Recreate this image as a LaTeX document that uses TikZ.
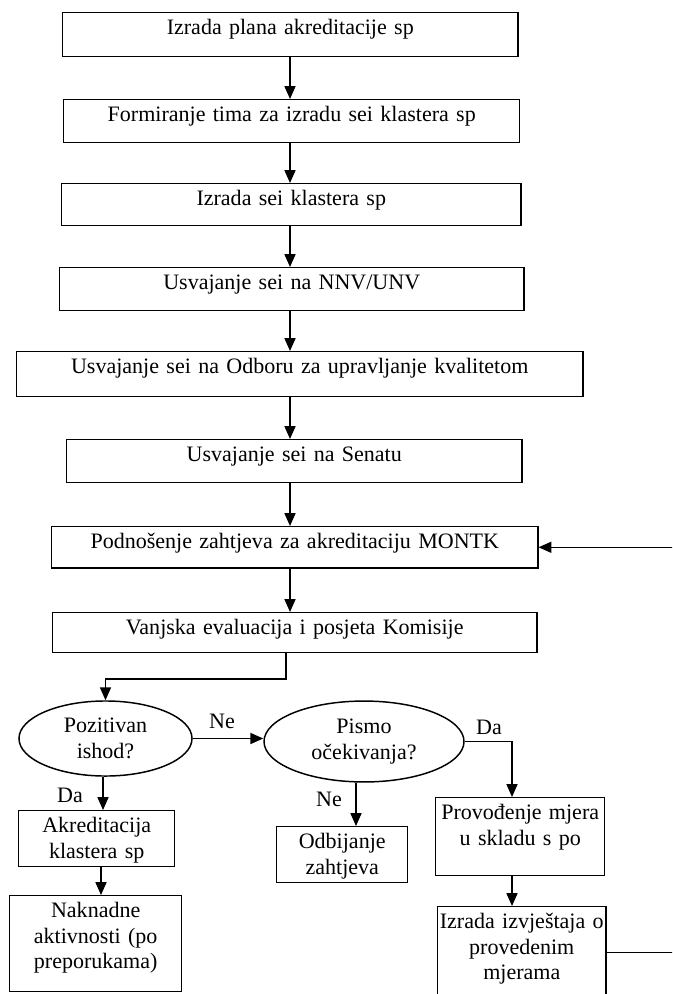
\documentclass[tikz,border=0pt]{standalone}
\usepackage{fontspec}
\setmainfont{Liberation Serif}
\usetikzlibrary{arrows.meta,shapes.geometric}

\begin{document}
\begin{tikzpicture}[-,>={Triangle[width=6pt,length=7pt]},x=0.545pt,y=-0.545pt,line width=0.8pt,
	box/.style={rectangle,draw,anchor=north west,inner sep=0pt,align=center,text height=12pt},
	dec/.style={ellipse,draw,inner sep=0pt,align=center}]
	\tikzstyle{every node}=[font=\fontsize{12}{13.9}\selectfont]
	\useasboundingbox (0,0) rectangle (672,994);
	\clip (0,0) rectangle (672,994);
	\draw
		(62,12)   node(a) [box, text width=248pt, text depth=12pt] {Izrada plana akreditacije sp}
		(63,99)   node(b) [box, text width=248.5pt, text depth=11.4pt] {Formiranje tima za izradu sei klastera sp}
		(61,183)  node(c) [box, text width=250.2pt, text depth=10.9pt] {Izrada sei klastera sp}
		(59,267)  node(d) [box, text width=252.9pt, text depth=11.4pt] {Usvajanje sei na NNV/UNV}
		(16,351)  node(e) [box, text width=308.5pt, text depth=12.5pt] {Usvajanje sei na Odboru za upravljanje kvalitetom}
		(66,439)  node(f) [box, text width=248pt, text depth=11.4pt] {Usvajanje sei na Senatu}
		(51,526)  node(g) [box, text width=264.9pt, text depth=10.4pt] {Podnošenje zahtjeva za akreditaciju MONTK}
		(52,612)  node(h) [box, text width=263.8pt, text depth=9.8pt] {Vanjska evaluacija i posjeta Komisije}
		(105.5,738.5) node(p) [dec, minimum width=94.3pt, minimum height=40.9pt] {Pozitivan\\ishod?}
		(364,741.5)   node(q) [dec, minimum width=109pt, minimum height=44.1pt] {Pismo\\očekivanja?}
		(18,810)  node(i) [box, text width=85pt, text depth=18.5pt] {Akreditacija\\klastera sp}
		(9,895)   node(j) [box, text width=93.7pt, text depth=40.3pt] {Naknadne\\aktivnosti (po\\preporukama)}
		(276,826) node(k) [box, text width=71.4pt, text depth=18.5pt] {Odbijanje\\zahtjeva}
		(435,797) node(l) [box, text width=92.1pt, text depth=30.5pt] {Provođenje mjera\\u skladu s po}
		(437,906) node(m) [box, text width=91.6pt, text depth=37.6pt] {Izrada izvještaja o\\provedenim\\mjerama}
		(222,721) node(n1) {Ne}
		(489,727) node(n2) {Da}
		(70,795)  node(n3) {Da}
		(329,799) node(n4) {Ne};

	% columns of the connectors
	\coordinate (x1) at (290,0);
	\coordinate (t) at (286,679);
	\coordinate (x2) at (512,0);
	\coordinate (x3) at (103,0);
	\coordinate (x4) at (101,0);
	\coordinate (x5) at (356,0);
	\coordinate (x6) at (684,0);

	\draw [->] (a.south -| x1) -- (b.north -| x1);
	\draw [->] (b.south -| x1) -- (c.north -| x1);
	\draw [->] (c.south -| x1) -- (d.north -| x1);
	\draw [->] (d.south -| x1) -- (e.north -| x1);
	\draw [->] (e.south -| x1) -- (f.north -| x1);
	\draw [->] (f.south -| x1) -- (g.north -| x1);
	\draw [->] (g.south -| x1) -- (h.north -| x1);
	\draw [->] (h.south -| t) -- (t) -| (p.north);
	\draw [->] (p.east) -- (p.east -| q.west);
	\draw [->] (q.east) -| (x2 |- l.north);
	\draw [->] (l.south -| x2) -- (m.north -| x2);
	\draw [->] (p.south -| x3) -- (i.north -| x3);
	\draw [->] (i.south -| x4) -- (j.north -| x4);
	\draw [->] (q.south -| x5) -- (k.north -| x5);
	\draw [->] (m.east) -- (m.east -| x6) -- (g.east -| x6) -- (g.east);
\end{tikzpicture}
\end{document}
